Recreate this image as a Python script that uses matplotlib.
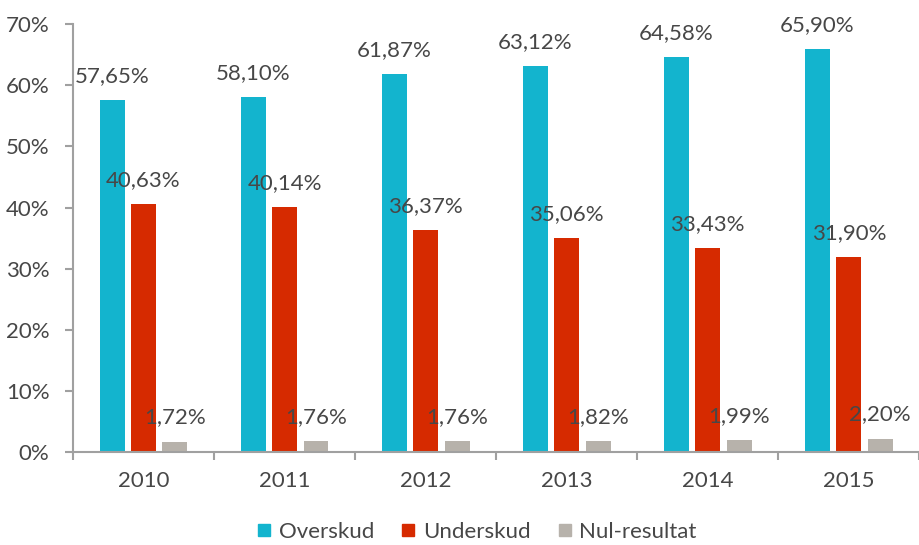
import numpy as np
import matplotlib.pyplot as plt
from matplotlib.lines import Line2D

plt.rcParams['font.family'] = ['Lato', 'DejaVu Sans']

years = ['2010', '2011', '2012', '2013', '2014', '2015']
overskud = [57.65, 58.10, 61.87, 63.12, 64.58, 65.90]
underskud = [40.63, 40.14, 36.37, 35.06, 33.43, 31.90]
nul = [1.72, 1.76, 1.76, 1.82, 1.99, 2.20]

names = ['Overskud', 'Underskud', 'Nul-resultat']
colors = ['#13B4CE', '#D62A00', '#B7B2AB']
txt = '#474747'
axcol = '#A0A0A0'

fig = plt.figure(figsize=(9.2, 5.45), dpi=100)
ax = fig.add_axes([0.0793, 0.1706, 0.92, 0.785])

x = np.arange(len(years)) + 0.5
w = 0.177
step = 0.223
for k, (vals, c) in enumerate(zip([overskud, underskud, nul], colors)):
    xs = x + (k - 1) * step
    ax.bar(xs, vals, width=w, color=c, zorder=2)
    for xi, v in zip(xs, vals):
        lab = ('%.2f%%' % v).replace('.', ',')
        ax.annotate(lab, (xi, v), xytext=(0, 24), textcoords='offset pixels',
                    ha='center', va='center', fontsize=16, color=txt)

ax.set_xlim(0, len(years))
ax.set_ylim(0, 70)
ax.set_yticks(np.arange(0, 71, 10))
ax.set_yticklabels(['%d%%' % t for t in range(0, 71, 10)])
ax.set_xticks(np.arange(0, len(years) + 1))
ax.set_xticklabels([])
ax.set_xticks(x, minor=True)
ax.set_xticklabels(years, minor=True)
ax.tick_params(axis='x', which='major', length=6, width=1.5, color=axcol)
ax.tick_params(axis='x', which='minor', length=0, pad=14, labelsize=16, labelcolor=txt)
ax.tick_params(axis='y', length=6, width=1.5, color=axcol, pad=11,
               labelsize=16, labelcolor=txt)

for s in ['top', 'right']:
    ax.spines[s].set_visible(False)
for s in ['left', 'bottom']:
    ax.spines[s].set_color(axcol)
    ax.spines[s].set_linewidth(1.5)

handles = [Line2D([], [], marker='s', linestyle='none', markersize=9,
                  markerfacecolor=c, markeredgecolor=c) for c in colors]
fig.legend(handles, names, loc='center', bbox_to_anchor=(0.518, 0.024),
           ncol=3, frameon=False, fontsize=16, labelcolor=txt,
           handlelength=0.7, handletextpad=0.3, columnspacing=1.2)

fig.savefig('out.png', dpi=100)
